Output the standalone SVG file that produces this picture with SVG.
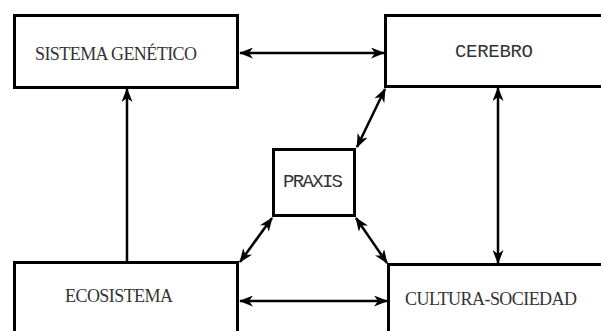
<svg xmlns="http://www.w3.org/2000/svg" width="601" height="331" viewBox="0 0 601 331">
<style>
.box{fill:#fff;stroke:#000;stroke-width:3}
.serif{font-family:"Liberation Serif","Times New Roman",serif;font-size:18px;fill:#333}
.mono{font-family:"Liberation Mono","Courier New",monospace;font-size:19px;fill:#333}
.conn{stroke:#000;stroke-width:2.5;fill:none}
</style>
<defs>
<marker id="ah" markerUnits="userSpaceOnUse" markerWidth="14" markerHeight="11" refX="13" refY="5.5" orient="auto-start-reverse" viewBox="0 0 14 11">
<path d="M0,0 L14,5.5 L0,11 L4,5.5 z" fill="#000"/>
</marker>
</defs>
<rect width="601" height="331" fill="#fff"/>
<g id="sistema-genetico">
<rect class="box" x="14.5" y="15.5" width="223" height="72"/>
<text class="serif" x="35" y="60" textLength="162">SISTEMA GENÉTICO</text>
</g>
<g id="cerebro">
<rect class="box" x="385.5" y="15.5" width="300" height="71"/>
<text class="mono" x="455" y="57" textLength="78">CEREBRO</text>
</g>
<g id="praxis">
<rect class="box" x="273.5" y="149.5" width="81" height="66"/>
<text class="mono" x="283" y="187" textLength="60">PRAXIS</text>
</g>
<g id="ecosistema">
<rect class="box" x="14.5" y="262.5" width="223" height="100"/>
<text class="serif" x="65" y="302" textLength="108">ECOSISTEMA</text>
</g>
<g id="cultura-sociedad">
<rect class="box" x="388.5" y="264.5" width="300" height="100"/>
<text class="serif" x="405" y="305" textLength="172">CULTURA-SOCIEDAD</text>
</g>
<g id="connectors">
<line class="conn" x1="240" y1="53" x2="384" y2="53" marker-start="url(#ah)" marker-end="url(#ah)"/>
<line class="conn" x1="127" y1="261" x2="127" y2="89" marker-end="url(#ah)"/>
<line class="conn" x1="498" y1="88" x2="498" y2="263" marker-start="url(#ah)" marker-end="url(#ah)"/>
<line class="conn" x1="240" y1="301" x2="387" y2="301" marker-start="url(#ah)" marker-end="url(#ah)"/>
<line class="conn" x1="357" y1="147" x2="385" y2="89" marker-start="url(#ah)" marker-end="url(#ah)"/>
<line class="conn" x1="272" y1="218" x2="240" y2="262" marker-start="url(#ah)" marker-end="url(#ah)"/>
<line class="conn" x1="356" y1="218" x2="387" y2="263" marker-start="url(#ah)" marker-end="url(#ah)"/>
</g>
</svg>
